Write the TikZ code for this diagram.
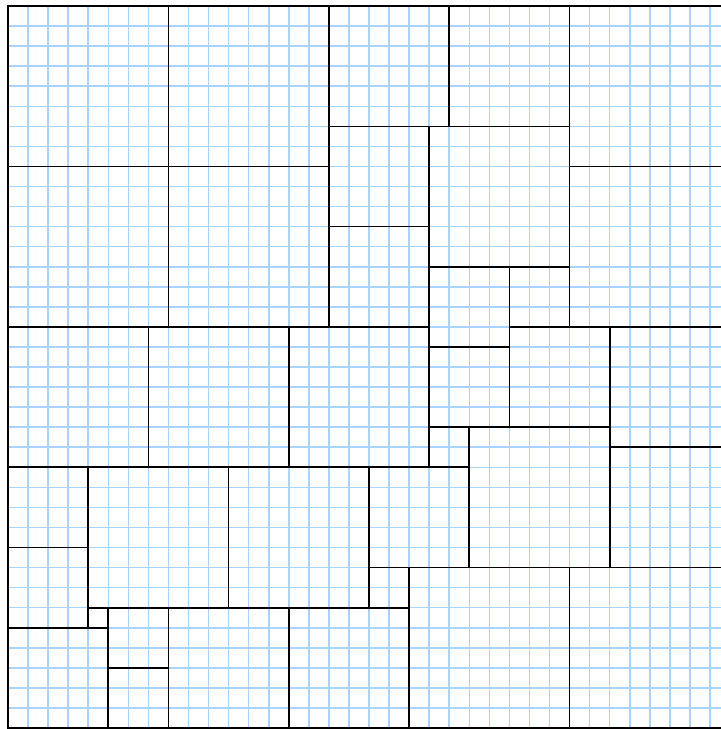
\documentclass[tikz,border=0pt]{standalone}
\usepackage{tikz}
\definecolor{gridblue}{RGB}{168,212,255}

\begin{document}
\begin{tikzpicture}[x = 0.5cm, y = -0.5cm]
            \useasboundingbox(-0.4,-0.3)rectangle(35.55,36.05);
            % graph paper
            \path[draw, gridblue, line width = 1.1pt, step = 0.5cm](0,0)grid(36,36);

            % tiles
            \tikzset{tile/.style = {draw, black, line width = 1.2pt}}
            % top band
            \path[tile](0,0)rectangle(8,8);
            \path[tile](8,0)rectangle(16,8);
            \path[tile](16,0)rectangle(22,6);
            \path[tile](22,0)rectangle(28,6);
            \path[tile](28,0)rectangle(36,8);
            \path[tile](0,8)rectangle(8,16);
            \path[tile](8,8)rectangle(16,16);
            \path[tile](16,6)rectangle(21,11);
            \path[tile](21,6)rectangle(28,13);
            \path[tile](16,11)rectangle(21,16);
            \path[tile](28,8)rectangle(36,16);
            \path[tile](21,13)rectangle(25,17);
            \path[tile](25,13)rectangle(28,16);
            % middle band
            \path[tile](0,16)rectangle(7,23);
            \path[tile](7,16)rectangle(14,23);
            \path[tile](14,16)rectangle(21,23);
            \path[tile](21,17)rectangle(25,21);
            \path[tile](25,16)rectangle(30,21);
            \path[tile](30,16)rectangle(36,22);
            \path[tile](21,21)rectangle(23,23);
            \path[tile](23,21)rectangle(30,28);
            \path[tile](30,22)rectangle(36,28);
            % lower band
            \path[tile](0,23)rectangle(4,27);
            \path[tile](4,23)rectangle(11,30);
            \path[tile](11,23)rectangle(18,30);
            \path[tile](18,23)rectangle(23,28);
            \path[tile](0,27)rectangle(4,31);
            \path[tile](18,28)rectangle(20,30);
            \path[tile](20,28)rectangle(28,36);
            \path[tile](28,28)rectangle(36,36);
            % bottom row
            \path[tile](4,30)rectangle(5,31);
            \path[tile](0,31)rectangle(5,36);
            \path[tile](5,30)rectangle(8,33);
            \path[tile](5,33)rectangle(8,36);
            \path[tile](8,30)rectangle(14,36);
            \path[tile](14,30)rectangle(20,36);
        \end{tikzpicture}
\end{document}
